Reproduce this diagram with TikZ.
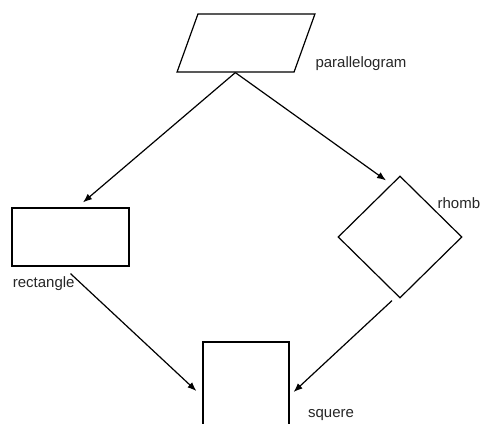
\documentclass[tikz,border=0pt]{standalone}
\usepackage{fontspec}
\setmainfont{Liberation Sans}
\usetikzlibrary{shapes.geometric,arrows.meta,calc}
\tikzset{
  shapebox/.style={draw=black, line width=1.2pt, inner sep=0pt},
  conn/.style={-{Latex[length=9pt,width=7pt]}, line width=1.2pt},
  every label/.style={font=\fontsize{15}{17}\selectfont, text=black!85}
}
\begin{document}
\begin{tikzpicture}[x=1pt, y=-1pt]
\useasboundingbox (0,0) rectangle (481,423);
\node (para) at (246, 43) [shapebox, rectangle, xslant=0.36, minimum width=117, minimum height=58] {};
\node (plabel) at (312, 67) [anchor=base west, font=\fontsize{15}{17}\selectfont, text=black!85] {parallelogram};
\node (rect) at (70.5, 237) [shapebox, rectangle, minimum width=117, minimum height=58, label={[xshift=-26.8pt, yshift=-6.6pt]below:rectangle}] {};
\node (rh) at (400, 237) [shapebox, diamond, minimum width=124, minimum height=122, label={[xshift=3pt, yshift=-6pt]above right:rhomb}] {};
\node (sq) at (246, 385) [shapebox, rectangle, minimum width=86, minimum height=86, label={[xshift=15pt, yshift=-29.6pt]right:squere}] {};
\draw [conn] (para.south) -- ($(rect.north)+(12.5,-5)$);
\draw [conn] (para.south) -- ($(rh.north)+(-14,5)$);
\draw [conn] ($(rect.south)+(0,7)$) -- ($(sq.west)+(-6,6)$);
\draw [conn] ($(rh.south)+(-8,2)$) -- ($(sq.east)+(4,7)$);
\end{tikzpicture}
\end{document}
